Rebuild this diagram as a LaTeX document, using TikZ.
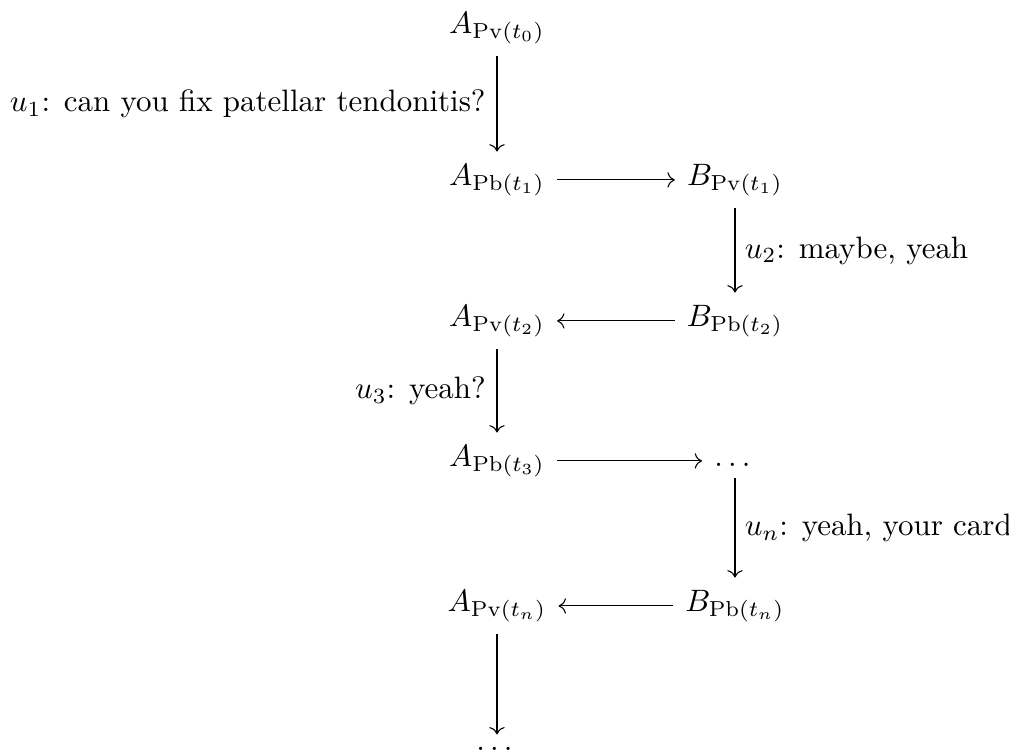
\documentclass[tikz,border=0pt]{standalone}
\usepackage{amsmath}
\usetikzlibrary{arrows.meta}

\begin{document}
\begin{tikzpicture}[x=0.323pt, y=-0.323pt, line width=0.35pt,
    state/.style={anchor=base, inner sep=3.8pt},
    turn/.style={-{To}},
    utt/.style={midway, inner sep=0pt}]
  \useasboundingbox (0,0) rectangle (1009,753);
  % speaker A on the left, speaker B on the right
  \node[state] (a0) at (497,33)  {$A_{\mathrm{Pv}(t_0)}$};
  \node[state] (a1) at (497,185) {$A_{\mathrm{Pb}(t_1)}$};
  \node[state] (b1) at (735,185) {$B_{\mathrm{Pv}(t_1)}$};
  \node[state] (b2) at (735,326) {$B_{\mathrm{Pb}(t_2)}$};
  \node[state] (a2) at (497,326) {$A_{\mathrm{Pv}(t_2)}$};
  \node[state] (a3) at (497,466) {$A_{\mathrm{Pb}(t_3)}$};
  \node[state] (bx) at (735,466) {$\dots$};
  \node[state] (bn) at (735,611) {$B_{\mathrm{Pb}(t_n)}$};
  \node[state] (an) at (497,611) {$A_{\mathrm{Pv}(t_n)}$};
  \node[state] (ax) at (497,750) {$\dots$};
  % turns
  \draw[turn] (a0) -- (a1) node[utt, left=3.5pt] {$u_1$: can you fix patellar tendonitis?};
  \draw[turn] (a1) -- (b1);
  \draw[turn] (b1) -- (b2) node[utt, right=3pt] {$u_2$: maybe, yeah};
  \draw[turn] (b2) -- (a2);
  \draw[turn] (a2) -- (a3) node[utt, left=3.5pt] {$u_3$: yeah?};
  \draw[turn] (a3.east) -- (a3.east -| bx.west);
  \draw[turn] (bx) -- (bn) node[utt, right=3pt] {$u_n$: yeah, your card};
  \draw[turn] (bn) -- (an);
  \draw[turn] (an) -- (ax);
\end{tikzpicture}
\end{document}
